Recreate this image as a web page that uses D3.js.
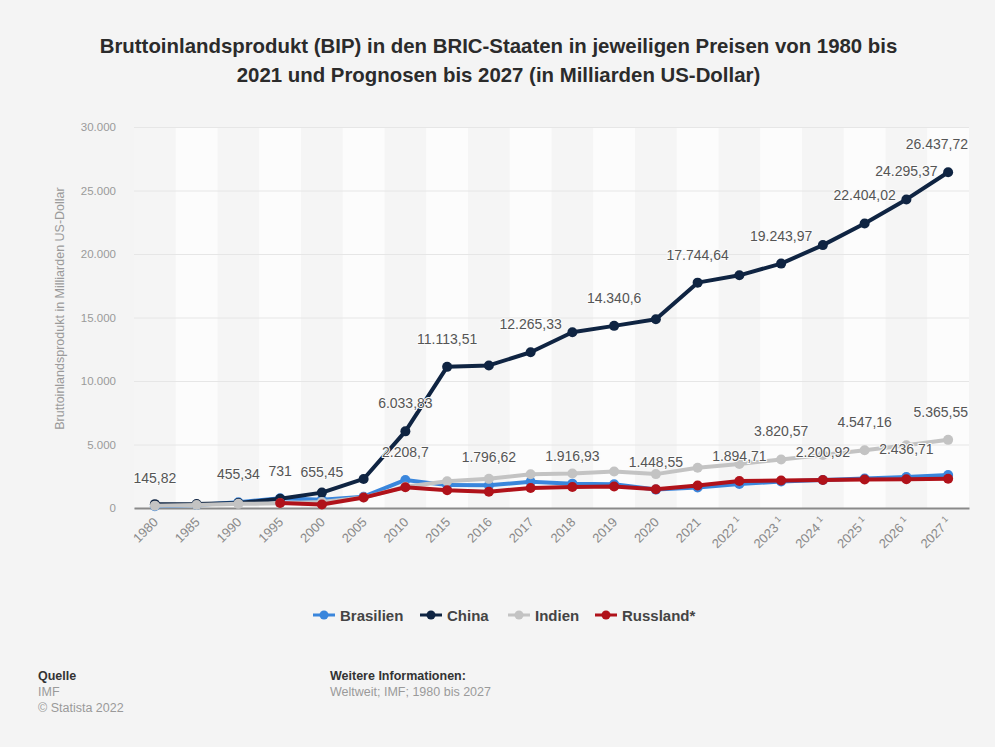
<!DOCTYPE html>
<html>
<head>
<meta charset="utf-8">
<script src="https://cdn.jsdelivr.net/npm/d3@7"></script>
<style>
  body { margin: 0; background: #f4f4f4; }
  svg { display: block; font-family: "Liberation Sans", Arial, sans-serif; }
</style>
</head>
<body>
<div id="chart"></div>
<script>
// categories (forecast years get a superscript 1)
var years = ["1980","1985","1990","1995","2000","2005","2010","2015","2016","2017","2018","2019","2020","2021","2022","2023","2024","2025","2026","2027"];
var forecast = [0,0,0,0,0,0,0,0,0,0,0,0,0,0,1,1,1,1,1,1];

// GDP in billion US-Dollar
var brasilien = [145.82, 230, 455.34, 769, 655.45, 892, 2208.7, 1802, 1796.62, 2063, 1916.93, 1873, 1448.55, 1609, 1894.71, 2080, 2200.92, 2320, 2436.71, 2600];
var china     = [305, 310, 395, 731, 1211, 2286, 6033.83, 11113.51, 11226, 12265.33, 13842, 14340.6, 14862, 17744.64, 18321, 19243.97, 20700, 22404.02, 24295.37, 26437.72];
var indien    = [186, 235, 327, 367, 468, 820, 1675, 2103, 2295, 2652, 2713, 2870, 2668, 3176, 3469, 3820.57, 4170, 4547.16, 4940, 5365.55];
var russland  = [null, null, null, 395, 278, 820, 1633, 1393, 1281, 1575, 1657, 1693, 1483, 1775, 2133, 2160, 2200, 2240, 2270, 2300];

// which points carry a value label
var brasilienLabels = ["1980","1990","2000","2010","2016","2018","2020","2022","2024","2026"];
var chinaLabels     = ["1995","2010","2015","2017","2019","2021","2023","2025","2026","2027"];
var indienLabels    = ["2023","2025","2027"];
var russlandLabels  = [];

var yTicks = [0, 5000, 10000, 15000, 20000, 25000, 30000];

var series = [
  {name: "Brasilien", values: brasilien, labels: brasilienLabels, color: "#3a86dc"},
  {name: "China", values: china, labels: chinaLabels, color: "#0f2442"},
  {name: "Indien", values: indien, labels: indienLabels, color: "#c3c3c3"},
  {name: "Russland*", values: russland, labels: russlandLabels, color: "#b0121a"}
];

var W = 995, H = 747;
var plot = {left: 134, right: 969, top: 127, bottom: 508};

var de = d3.formatLocale({decimal: ",", thousands: ".", grouping: [3], currency: ["", " €"]});
var fmtTick = de.format(",.0f");
var fmtVal = de.format(",.2~f");

var svg = d3.select("#chart").append("svg")
  .attr("width", W)
  .attr("height", H);

svg.append("rect").attr("width", W).attr("height", H).attr("fill", "#f4f4f4");

// title
var title = svg.append("text")
  .attr("text-anchor", "middle")
  .attr("font-weight", "bold")
  .attr("font-size", 20.4)
  .attr("fill", "#2b2b2b");
title.append("tspan").attr("x", W / 2 + 1).attr("y", 53)
  .text("Bruttoinlandsprodukt (BIP) in den BRIC-Staaten in jeweiligen Preisen von 1980 bis");
title.append("tspan").attr("x", W / 2 + 1).attr("y", 82)
  .text("2021 und Prognosen bis 2027 (in Milliarden US-Dollar)");

var x = d3.scaleBand()
  .domain(years)
  .range([plot.left, plot.right])
  .padding(0);

var y = d3.scaleLinear()
  .domain([0, 30000])
  .range([plot.bottom, plot.top]);

function cx(d) { return x(d) + x.bandwidth() / 2; }

// plot background with alternating column stripes
svg.append("rect")
  .attr("x", plot.left).attr("y", plot.top)
  .attr("width", plot.right - plot.left).attr("height", plot.bottom - plot.top)
  .attr("fill", "#fcfcfc");
svg.selectAll("rect.stripe")
  .data(years.filter(function(d, i) { return i % 2 == 0; }))
  .enter().append("rect")
  .attr("class", "stripe")
  .attr("x", function(d) { return x(d); })
  .attr("y", plot.top)
  .attr("width", x.bandwidth())
  .attr("height", plot.bottom - plot.top)
  .attr("fill", "#f5f5f5");

// y axis with grid
var yAxis = d3.axisLeft(y)
  .tickValues(yTicks)
  .tickFormat(fmtTick)
  .tickSize(-(plot.right - plot.left))
  .tickPadding(18);

var gy = svg.append("g")
  .attr("transform", "translate(" + plot.left + ",0)")
  .call(yAxis);
gy.select(".domain").remove();
gy.selectAll("line").attr("stroke", "#e6e6e6").attr("stroke-width", 1);
gy.selectAll("text").attr("fill", "#9a9a9a").attr("font-size", 11.5).attr("font-family", "Liberation Sans, Arial, sans-serif");

svg.append("text")
  .attr("transform", "translate(64," + ((plot.top + plot.bottom) / 2 - 9) + ") rotate(-90)")
  .attr("text-anchor", "middle")
  .attr("font-size", 12.5)
  .attr("fill", "#9a9a9a")
  .text("Bruttoinlandsprodukt in Milliarden US-Dollar");

// x axis
var xAxis = d3.axisBottom(x).tickSize(0).tickPadding(0);
var gx = svg.append("g")
  .attr("transform", "translate(0," + plot.bottom + ")")
  .call(xAxis);
gx.select(".domain").attr("stroke", "#8a8a8a").attr("stroke-width", 2);
gx.selectAll(".tick text").remove();
gx.selectAll(".tick").each(function(d, i) {
  var t = d3.select(this).append("text")
    .attr("transform", "translate(4,15) rotate(-45)")
    .attr("text-anchor", "end")
    .attr("font-size", 13)
    .attr("fill", "#8a8a8a")
    .attr("font-family", "Liberation Sans, Arial, sans-serif")
    .text(d);
  if (forecast[i]) {
    t.append("tspan").attr("dx", 3).attr("dy", -5).attr("font-size", 9).text("1");
  }
});

// lines and markers
var line = d3.line()
  .defined(function(d) { return d != null; })
  .x(function(d, i) { return cx(years[i]); })
  .y(function(d) { return y(d); });

series.forEach(function(s) {
  var g = svg.append("g");
  g.append("path")
    .attr("d", line(s.values))
    .attr("fill", "none")
    .attr("stroke", s.color)
    .attr("stroke-width", 4)
    .attr("stroke-linejoin", "round");
  g.selectAll("circle")
    .data(s.values.map(function(v, i) { return {v: v, year: years[i]}; }).filter(function(d) { return d.v != null; }))
    .enter().append("circle")
    .attr("cx", function(d) { return cx(d.year); })
    .attr("cy", function(d) { return y(d.v); })
    .attr("r", 5)
    .attr("fill", s.color);
});

// value labels (kept inside the plot on the right)
series.forEach(function(s) {
  svg.append("g").selectAll("text")
    .data(s.labels)
    .enter().append("text")
    .attr("x", function(d) { return cx(d); })
    .attr("y", function(d) { return y(s.values[years.indexOf(d)]) - 23; })
    .attr("text-anchor", "middle")
    .attr("font-size", 14)
    .attr("fill", "#555")
    .attr("stroke", "#fbfbfb")
    .attr("stroke-width", 2)
    .attr("paint-order", "stroke")
    .text(function(d) { return fmtVal(s.values[years.indexOf(d)]); })
    .each(function(d) {
      var half = this.getComputedTextLength() / 2;
      var over = cx(d) + half - (plot.right - 1);
      if (over > 0) d3.select(this).attr("x", cx(d) - over);
    });
});

// legend
var legendX = [313, 420, 508, 595];
var legend = svg.append("g").attr("transform", "translate(0,615)");
series.forEach(function(s, i) {
  var lg = legend.append("g").attr("transform", "translate(" + legendX[i] + ",0)");
  lg.append("line").attr("x1", 0).attr("x2", 22).attr("stroke", s.color).attr("stroke-width", 3);
  lg.append("circle").attr("cx", 11).attr("r", 4.5).attr("fill", s.color);
  lg.append("text")
    .attr("x", 27).attr("y", 5.5)
    .attr("font-size", 15)
    .attr("font-weight", "bold")
    .attr("fill", "#444")
    .text(s.name);
});

// footer
var foot = svg.append("g").attr("font-size", 12.5);
foot.append("text").attr("x", 38).attr("y", 680).attr("font-weight", "bold").attr("fill", "#333").text("Quelle");
foot.append("text").attr("x", 38).attr("y", 696).attr("fill", "#9a9a9a").text("IMF");
foot.append("text").attr("x", 38).attr("y", 712).attr("fill", "#9a9a9a").text("© Statista 2022");
foot.append("text").attr("x", 330).attr("y", 680).attr("font-weight", "bold").attr("fill", "#333").text("Weitere Informationen:");
foot.append("text").attr("x", 330).attr("y", 696).attr("fill", "#9a9a9a").text("Weltweit; IMF; 1980 bis 2027");
</script>
</body>
</html>
